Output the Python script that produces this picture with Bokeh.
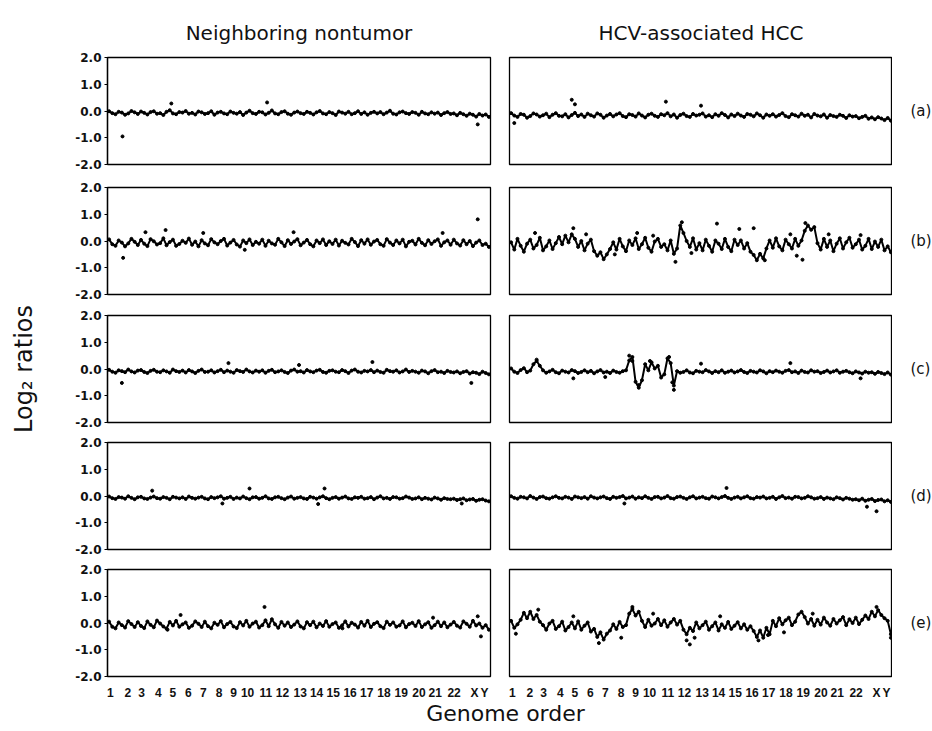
from bokeh.plotting import figure
from bokeh.layouts import column, row
from bokeh.models import FixedTicker, PrintfTickFormatter, Label, Range1d
from bokeh.embed import file_html
from bokeh.resources import INLINE

FONT = "DejaVu Sans"

# ---------------- data ----------------
col_titles = ["Neighboring nontumor", "HCV-associated HCC"]
row_labels = ["(a)", "(b)", "(c)", "(d)", "(e)"]
chrom_labels = [str(i) for i in range(1, 23)] + ["X", "Y"]
# label positions along genome order (0..1200 units)
chrom_pos = [9, 64, 107, 159, 205, 253, 300, 350, 395, 439, 496, 548, 604, 655, 707,
             760, 812, 866, 920, 976, 1027, 1086, 1150, 1181]
y_ticks = [-2, -1, 0, 1, 2]

nt_a = [-0.01,-0.08,-0.12,-0.03,-0.06,-0.14,-0.09,0.00,-0.05,-0.11,-0.02,-0.07,
        -0.13,-0.04,-0.01,-0.10,-0.08,-0.15,-0.03,0.03,-0.09,-0.12,-0.04,-0.06,
        0.00,-0.10,-0.07,-0.13,-0.02,-0.05,-0.11,-0.08,-0.01,-0.14,-0.06,-0.03,
        -0.09,-0.12,-0.02,-0.07,-0.10,-0.04,-0.15,-0.06,0.01,-0.08,-0.11,-0.03,
        -0.05,-0.13,-0.07,0.02,-0.09,-0.12,-0.04,-0.01,-0.10,-0.14,-0.06,-0.02,
        -0.08,-0.11,-0.03,-0.07,-0.13,-0.05,0.00,-0.09,-0.12,-0.04,-0.08,-0.15,
        -0.02,-0.06,-0.10,-0.03,-0.12,-0.08,-0.01,-0.11,-0.05,-0.14,-0.07,-0.03,
        -0.09,-0.04,-0.12,-0.06,0.01,-0.10,-0.13,-0.05,-0.02,-0.08,-0.11,-0.04,
        -0.07,-0.14,-0.03,-0.09,-0.12,-0.05,-0.10,-0.06,-0.15,-0.08,-0.04,-0.11,
        -0.09,-0.16,-0.07,-0.12,-0.18,-0.10,-0.14,-0.21,-0.11,-0.17,-0.13,-0.22]
nt_a_out_x = [47, 200, 500, 1160]
nt_a_out_y = [-0.95, 0.28, 0.32, -0.50]

hcc_a = [-0.08,-0.17,-0.22,-0.11,-0.14,-0.25,-0.19,-0.09,-0.13,-0.21,-0.16,-0.10,
         -0.23,-0.14,-0.08,-0.18,-0.20,-0.12,-0.24,-0.15,-0.07,-0.19,-0.13,-0.22,
         -0.10,-0.16,-0.21,-0.09,-0.14,-0.25,-0.17,-0.11,-0.20,-0.13,-0.08,-0.19,
         -0.23,-0.12,-0.15,-0.21,-0.09,-0.17,-0.24,-0.14,-0.10,-0.18,-0.22,-0.12,
         -0.16,-0.08,-0.20,-0.13,-0.25,-0.15,-0.10,-0.19,-0.22,-0.11,-0.17,-0.14,
         -0.09,-0.21,-0.16,-0.23,-0.12,-0.18,-0.08,-0.15,-0.24,-0.13,-0.19,-0.10,
         -0.17,-0.22,-0.11,-0.14,-0.20,-0.09,-0.16,-0.25,-0.13,-0.18,-0.12,-0.21,
         -0.15,-0.08,-0.19,-0.23,-0.12,-0.16,-0.21,-0.10,-0.18,-0.14,-0.24,-0.11,
         -0.17,-0.20,-0.13,-0.25,-0.15,-0.19,-0.22,-0.14,-0.18,-0.26,-0.16,-0.21,
         -0.19,-0.27,-0.22,-0.18,-0.29,-0.24,-0.31,-0.23,-0.28,-0.34,-0.26,-0.36]
hcc_a_out_x = [15, 195, 205, 490, 600]
hcc_a_out_y = [-0.45, 0.42, 0.25, 0.35, 0.20]

nt_b = [0.06,-0.12,-0.18,0.02,-0.06,-0.20,-0.09,0.08,-0.03,-0.15,0.04,-0.10,
        -0.19,0.07,-0.01,-0.13,-0.08,0.10,-0.16,-0.04,0.05,-0.18,-0.11,0.01,
        -0.07,0.09,-0.14,-0.02,-0.20,0.03,-0.09,-0.16,0.07,-0.05,-0.12,0.00,
        0.08,-0.17,-0.06,0.04,-0.13,-0.21,0.02,-0.08,0.06,-0.15,-0.03,-0.10,
        0.05,-0.18,0.01,-0.09,-0.14,0.08,-0.05,-0.19,0.03,-0.11,-0.02,0.07,
        -0.16,-0.06,0.04,-0.12,-0.20,0.02,-0.08,0.06,-0.15,-0.01,-0.11,0.05,
        -0.17,0.01,-0.07,-0.13,0.08,-0.04,-0.19,0.03,-0.10,0.06,-0.14,-0.02,
        0.04,-0.12,-0.18,0.07,-0.06,-0.15,0.02,-0.09,0.05,-0.20,-0.03,0.01,
        -0.13,0.08,-0.07,-0.16,0.03,-0.11,-0.01,0.06,-0.18,-0.05,0.02,-0.14,
        0.05,-0.09,-0.17,0.03,-0.12,0.00,-0.19,-0.06,0.02,-0.15,-0.10,-0.22]
nt_b_out_x = [49, 119, 182, 300, 430, 583, 1050, 1160]
nt_b_out_y = [-0.63, 0.33, 0.41, 0.30, -0.33, 0.33, 0.30, 0.81]

hcc_b = [-0.05,-0.32,0.08,-0.18,-0.40,-0.10,0.05,-0.28,-0.15,0.12,-0.35,-0.20,
         0.02,-0.30,-0.08,0.15,-0.12,0.20,-0.05,0.25,0.08,-0.22,0.00,-0.35,
         -0.10,0.05,-0.38,-0.55,-0.42,-0.68,-0.50,-0.30,-0.05,-0.32,0.08,-0.20,
         -0.38,0.02,-0.15,0.10,-0.30,-0.12,0.12,-0.25,-0.40,-0.02,0.08,-0.22,
         -0.12,-0.35,0.02,-0.48,-0.28,0.58,0.30,0.00,-0.22,0.10,-0.32,-0.08,
         -0.35,0.05,-0.18,-0.40,0.02,-0.10,-0.30,0.08,-0.22,-0.38,0.05,-0.15,
         0.02,-0.28,-0.08,-0.40,-0.52,-0.72,-0.48,-0.65,-0.28,0.02,-0.25,0.10,
         -0.20,-0.35,0.05,-0.12,-0.28,0.08,-0.18,0.02,0.38,0.58,0.42,0.52,
         -0.08,-0.32,0.08,-0.22,0.02,-0.38,-0.10,0.10,-0.28,-0.05,0.12,-0.25,
         -0.12,0.05,-0.32,-0.18,0.08,-0.30,-0.02,-0.22,0.05,-0.35,-0.20,-0.42]
hcc_b_out_x = [80, 200, 240, 400, 450, 520, 540, 570, 650, 720, 765, 800, 880, 900,
               927, 918, 1000, 1100, 330]
hcc_b_out_y = [0.30, 0.48, 0.25, 0.30, 0.20, -0.78, 0.70, -0.45, 0.65, 0.45, 0.48,
               -0.72, 0.25, -0.55, 0.67, -0.70, 0.25, 0.22, -0.50]

nt_c = [-0.03,-0.10,-0.14,-0.05,-0.08,-0.12,-0.02,-0.09,-0.13,-0.06,-0.04,-0.11,
        -0.15,-0.07,-0.03,-0.10,-0.12,-0.05,-0.09,-0.14,-0.02,-0.08,-0.11,-0.06,
        -0.13,-0.04,-0.09,-0.15,-0.07,-0.02,-0.11,-0.10,-0.05,-0.13,-0.08,-0.03,
        -0.12,-0.06,-0.10,-0.14,-0.04,-0.08,-0.11,-0.02,-0.09,-0.13,-0.06,-0.10,
        -0.05,-0.14,-0.07,-0.03,-0.12,-0.09,-0.05,-0.11,-0.15,-0.06,-0.02,-0.10,
        -0.08,-0.13,-0.04,-0.09,-0.12,-0.06,-0.03,-0.11,-0.14,-0.07,-0.05,-0.10,
        -0.12,-0.04,-0.08,-0.15,-0.06,-0.02,-0.10,-0.13,-0.07,-0.09,-0.04,-0.12,
        -0.06,-0.11,-0.14,-0.03,-0.08,-0.10,-0.05,-0.13,-0.09,-0.02,-0.11,-0.07,
        -0.10,-0.14,-0.06,-0.09,-0.16,-0.08,-0.04,-0.12,-0.10,-0.15,-0.07,-0.11,
        -0.13,-0.09,-0.16,-0.11,-0.08,-0.17,-0.12,-0.14,-0.19,-0.10,-0.15,-0.20]
nt_c_out_x = [45, 379, 830, 1140, 600]
nt_c_out_y = [-0.52, 0.22, 0.26, -0.52, 0.15]

hcc_c = [0.02,-0.10,-0.15,-0.04,0.03,-0.12,-0.06,0.18,0.30,0.12,-0.05,-0.14,
         -0.09,-0.03,-0.12,-0.16,-0.06,-0.10,-0.13,-0.04,-0.08,-0.15,-0.11,-0.05,
         -0.12,-0.07,-0.16,-0.09,-0.04,-0.13,-0.10,-0.15,-0.06,-0.11,-0.14,-0.08,
         -0.05,0.32,0.45,-0.48,-0.70,-0.42,0.18,-0.05,0.25,0.02,0.12,-0.32,
         -0.20,0.40,0.22,-0.62,-0.08,-0.14,-0.11,-0.05,-0.13,-0.16,-0.07,-0.10,
         -0.12,-0.04,-0.09,-0.15,-0.08,-0.12,-0.05,-0.14,-0.10,-0.06,-0.13,-0.09,
         -0.04,-0.11,-0.15,-0.07,-0.10,-0.13,-0.05,-0.09,-0.16,-0.08,-0.12,-0.06,
         -0.10,-0.14,-0.07,-0.04,-0.12,-0.09,-0.15,-0.06,-0.11,-0.13,-0.05,-0.10,
         -0.08,-0.15,-0.11,-0.06,-0.13,-0.09,-0.05,-0.14,-0.10,-0.07,-0.12,-0.16,
         -0.09,-0.13,-0.17,-0.10,-0.14,-0.12,-0.18,-0.11,-0.15,-0.19,-0.13,-0.21]
hcc_c_out_x = [85, 375, 385, 405, 440, 500, 515, 510, 200, 600, 880, 1100, 300]
hcc_c_out_y = [0.35, 0.50, 0.30, -0.60, 0.30, 0.45, -0.78, -0.50, -0.35, 0.20, 0.22,
               -0.35, -0.30]

nt_d = [-0.02,-0.08,-0.11,-0.04,-0.06,-0.10,-0.01,-0.07,-0.12,-0.05,-0.03,-0.09,
        -0.11,-0.06,-0.02,-0.08,-0.10,-0.04,-0.07,-0.12,-0.03,-0.06,-0.09,-0.05,
        -0.11,-0.02,-0.07,-0.10,-0.06,-0.03,-0.09,-0.12,-0.04,-0.08,-0.05,-0.01,
        -0.10,-0.07,-0.03,-0.11,-0.06,-0.09,-0.02,-0.08,-0.12,-0.05,-0.04,-0.10,
        -0.07,-0.01,-0.09,-0.11,-0.05,-0.03,-0.08,-0.12,-0.06,-0.02,-0.10,-0.07,
        -0.04,-0.09,-0.11,-0.03,-0.06,-0.10,-0.05,-0.01,-0.08,-0.12,-0.07,-0.04,
        -0.10,-0.06,-0.02,-0.09,-0.11,-0.05,-0.07,-0.03,-0.10,-0.08,-0.04,-0.12,
        -0.06,-0.01,-0.09,-0.07,-0.11,-0.04,-0.05,-0.10,-0.08,-0.02,-0.06,-0.11,
        -0.09,-0.05,-0.12,-0.07,-0.10,-0.13,-0.06,-0.09,-0.14,-0.08,-0.11,-0.12,
        -0.10,-0.15,-0.12,-0.09,-0.16,-0.13,-0.11,-0.18,-0.14,-0.12,-0.17,-0.20]
nt_d_out_x = [140, 360, 445, 660, 680, 1110]
nt_d_out_y = [0.20, -0.28, 0.28, -0.30, 0.28, -0.28]

hcc_d = [-0.01,-0.07,-0.10,-0.03,-0.05,-0.09,0.00,-0.06,-0.11,-0.04,-0.02,-0.08,
         -0.10,-0.05,-0.01,-0.07,-0.09,-0.03,-0.06,-0.11,-0.02,-0.05,-0.08,-0.04,
         -0.10,-0.01,-0.06,-0.09,-0.05,-0.02,-0.08,-0.11,-0.03,-0.07,-0.04,0.00,
         -0.09,-0.06,-0.02,-0.10,-0.05,-0.08,-0.01,-0.07,-0.11,-0.04,-0.03,-0.09,
         -0.06,0.00,-0.08,-0.10,-0.04,-0.02,-0.07,-0.11,-0.05,-0.01,-0.09,-0.06,
         -0.03,-0.08,-0.10,-0.02,-0.05,-0.09,-0.04,0.00,-0.07,-0.11,-0.06,-0.03,
         -0.09,-0.05,-0.01,-0.08,-0.10,-0.04,-0.06,-0.02,-0.09,-0.07,-0.03,-0.11,
         -0.05,0.00,-0.08,-0.06,-0.10,-0.03,-0.04,-0.09,-0.07,-0.01,-0.05,-0.10,
         -0.08,-0.04,-0.11,-0.06,-0.09,-0.12,-0.05,-0.08,-0.13,-0.07,-0.10,-0.14,
         -0.12,-0.16,-0.10,-0.18,-0.14,-0.11,-0.19,-0.15,-0.13,-0.20,-0.16,-0.22]
hcc_d_out_x = [360, 680, 1120, 1150]
hcc_d_out_y = [-0.28, 0.30, -0.40, -0.57]

nt_e = [0.05,-0.14,-0.20,0.02,-0.08,-0.17,0.07,-0.04,-0.15,0.03,-0.11,-0.19,
        0.06,-0.07,-0.16,0.09,-0.02,-0.13,-0.21,0.04,-0.09,0.08,-0.14,-0.05,
        0.02,-0.18,-0.10,0.06,-0.03,-0.15,0.05,-0.12,-0.20,0.01,-0.07,0.07,
        -0.16,-0.04,0.04,-0.13,-0.19,0.03,-0.09,0.08,-0.14,-0.02,0.05,-0.17,
        -0.08,0.10,-0.12,0.14,-0.05,-0.18,0.04,-0.10,0.02,-0.15,-0.06,0.06,
        -0.13,-0.20,0.03,-0.08,0.05,-0.16,-0.02,-0.11,0.07,-0.14,-0.04,0.02,
        -0.18,-0.09,0.06,-0.13,0.01,-0.06,-0.17,0.04,-0.10,0.08,-0.15,-0.03,
        0.03,-0.12,-0.19,0.05,-0.07,0.02,-0.14,-0.09,0.06,-0.16,-0.04,0.01,
        -0.11,0.07,-0.15,-0.05,0.03,-0.18,-0.08,0.05,-0.12,0.02,-0.16,-0.06,
        0.04,-0.10,-0.17,0.06,-0.03,-0.14,0.08,-0.09,-0.02,-0.18,-0.08,-0.25]
nt_e_out_x = [188, 229, 492, 736, 1020, 1160, 1170]
nt_e_out_y = [-0.25, 0.30, 0.60, -0.20, 0.20, 0.25, -0.50]

hcc_e = [0.08,-0.18,-0.05,0.12,0.38,0.18,0.42,0.15,0.30,0.05,-0.08,-0.25,
         -0.02,0.08,-0.22,-0.12,0.05,-0.28,-0.15,0.02,-0.20,0.06,-0.25,-0.10,
         0.02,-0.32,-0.22,-0.52,-0.35,-0.62,-0.40,-0.28,-0.05,-0.22,0.04,-0.15,
         -0.08,0.35,0.52,0.28,0.42,0.08,-0.15,0.12,-0.10,-0.02,0.15,-0.08,
         0.10,-0.14,0.02,0.15,-0.06,0.08,-0.25,-0.42,-0.18,-0.30,0.02,-0.20,
         -0.08,0.05,-0.25,-0.12,0.02,-0.28,-0.05,-0.18,0.04,-0.22,-0.10,0.03,
         -0.20,-0.05,-0.25,-0.12,-0.30,-0.52,-0.28,-0.55,-0.18,-0.42,0.08,-0.12,
         0.18,-0.05,0.10,0.20,-0.08,0.05,0.32,0.42,0.22,-0.02,0.15,-0.10,
         0.12,-0.06,0.20,0.02,-0.10,0.15,-0.02,0.10,0.22,-0.08,0.14,0.00,
         0.20,-0.04,0.12,0.28,0.15,0.42,0.25,0.48,0.30,0.18,0.08,-0.42]
hcc_e_out_x = [90, 20, 385, 450, 555, 565, 580, 350, 280, 780, 810, 860, 950, 1150,
               1195, 660, 200]
hcc_e_out_y = [0.50, -0.40, 0.60, 0.35, -0.65, -0.80, -0.55, -0.55, -0.75, -0.65,
               -0.45, -0.35, 0.35, 0.60, -0.55, 0.25, 0.25]

series = [
    [(nt_a, nt_a_out_x, nt_a_out_y), (hcc_a, hcc_a_out_x, hcc_a_out_y)],
    [(nt_b, nt_b_out_x, nt_b_out_y), (hcc_b, hcc_b_out_x, hcc_b_out_y)],
    [(nt_c, nt_c_out_x, nt_c_out_y), (hcc_c, hcc_c_out_x, hcc_c_out_y)],
    [(nt_d, nt_d_out_x, nt_d_out_y), (hcc_d, hcc_d_out_x, hcc_d_out_y)],
    [(nt_e, nt_e_out_x, nt_e_out_y), (hcc_e, hcc_e_out_x, hcc_e_out_y)],
]

# ---------------- layout ----------------
FRAME_W, FRAME_H = 383, 107
BORDER_TOP = [57, 11, 10, 10, 10]
BORDER_BOTTOM = [12, 11, 10, 10, 24]


def make_panel(vals, ox, oy, side, r):
    last = (r == 4)
    p = figure(frame_width=FRAME_W, frame_height=FRAME_H,
               x_range=Range1d(0, 1200), y_range=Range1d(-2, 2),
               output_backend="svg", toolbar_location=None, tools="",
               min_border_left=107 if side == 0 else 9,
               min_border_right=10 if side == 0 else 0,
               min_border_top=BORDER_TOP[r],
               min_border_bottom=BORDER_BOTTOM[r])
    p.grid.visible = False
    p.outline_line_color = "black"
    p.outline_line_width = 1.3
    p.outline_line_alpha = 1.0

    xs = [10 * i + 5 for i in range(len(vals))]
    p.line(xs, vals, line_color="black", line_width=2.0)
    p.scatter(xs, vals, size=3.0, color="black")
    p.scatter(ox, oy, size=3.0, color="black")

    if side == 0:
        ya = p.yaxis[0]
        ya.ticker = FixedTicker(ticks=y_ticks)
        ya.formatter = PrintfTickFormatter(format="%.1f")
        ya.minor_tick_line_color = None
        ya.major_tick_out = 3
        ya.major_tick_in = 0
        ya.axis_line_color = "black"
        ya.axis_line_width = 1.3
        ya.major_label_standoff = 3
        ya.major_label_text_font = FONT
        ya.major_label_text_font_size = "12px"
        ya.major_label_text_font_style = "bold"
        ya.major_label_text_color = "#111111"
        if r == 2:
            ya.axis_label = "Log\u2082 ratios"
            ya.axis_label_text_font = FONT
            ya.axis_label_text_font_size = "24px"
            ya.axis_label_text_font_style = "normal"
            ya.axis_label_text_color = "#111111"
            ya.axis_label_standoff = 34
    else:
        p.yaxis.visible = False

    if last:
        xa = p.xaxis[0]
        xa.ticker = FixedTicker(ticks=chrom_pos)
        xa.major_label_overrides = {pos: lab for pos, lab in zip(chrom_pos, chrom_labels)}
        xa.axis_line_color = None
        xa.major_tick_line_color = None
        xa.minor_tick_line_color = None
        xa.major_tick_out = 0
        xa.major_tick_in = 0
        xa.major_label_standoff = 9
        xa.major_label_text_font = "Liberation Sans"
        xa.major_label_text_font_size = "12px"
        xa.major_label_text_font_style = "bold"
        xa.major_label_text_color = "#111111"
    else:
        p.xaxis.visible = False

    if r == 0:
        p.title.text = col_titles[side]
        p.title.align = "center"
        p.title.text_font = FONT
        p.title.text_font_size = "20px"
        p.title.text_font_style = "normal"
        p.title.text_color = "#111111"
        p.title.standoff = 25
    return p


def make_row_label(r):
    f = figure(frame_width=40, frame_height=FRAME_H,
               x_range=Range1d(0, 40), y_range=Range1d(-2, 2),
               output_backend="svg", toolbar_location=None, tools="",
               min_border_left=0, min_border_right=0,
               min_border_top=BORDER_TOP[r], min_border_bottom=BORDER_BOTTOM[r])
    f.outline_line_color = None
    f.axis.visible = False
    f.grid.visible = False
    f.add_layout(Label(x=18, y=0, text=row_labels[r], text_baseline="middle",
                       text_align="left", text_font=FONT, text_font_size="15px",
                       text_color="#111111"))
    return f


rows = []
for r in range(5):
    pl = make_panel(*series[r][0], 0, r)
    pr = make_panel(*series[r][1], 1, r)
    rows.append(row(pl, pr, make_row_label(r)))

footer = figure(width=932, height=26, x_range=Range1d(0, 932), y_range=Range1d(0, 26),
                output_backend="svg", toolbar_location=None, tools="",
                min_border=0, min_border_left=0, min_border_right=0,
                min_border_top=0, min_border_bottom=0)
footer.outline_line_color = None
footer.axis.visible = False
footer.grid.visible = False
footer.add_layout(Label(x=505, y=15, text="Genome order", text_align="center",
                        text_baseline="middle", text_font=FONT, text_font_size="22px",
                        text_color="#111111"))

layout = column(*rows, footer)
open("out.html", "w").write(file_html(layout, INLINE))
